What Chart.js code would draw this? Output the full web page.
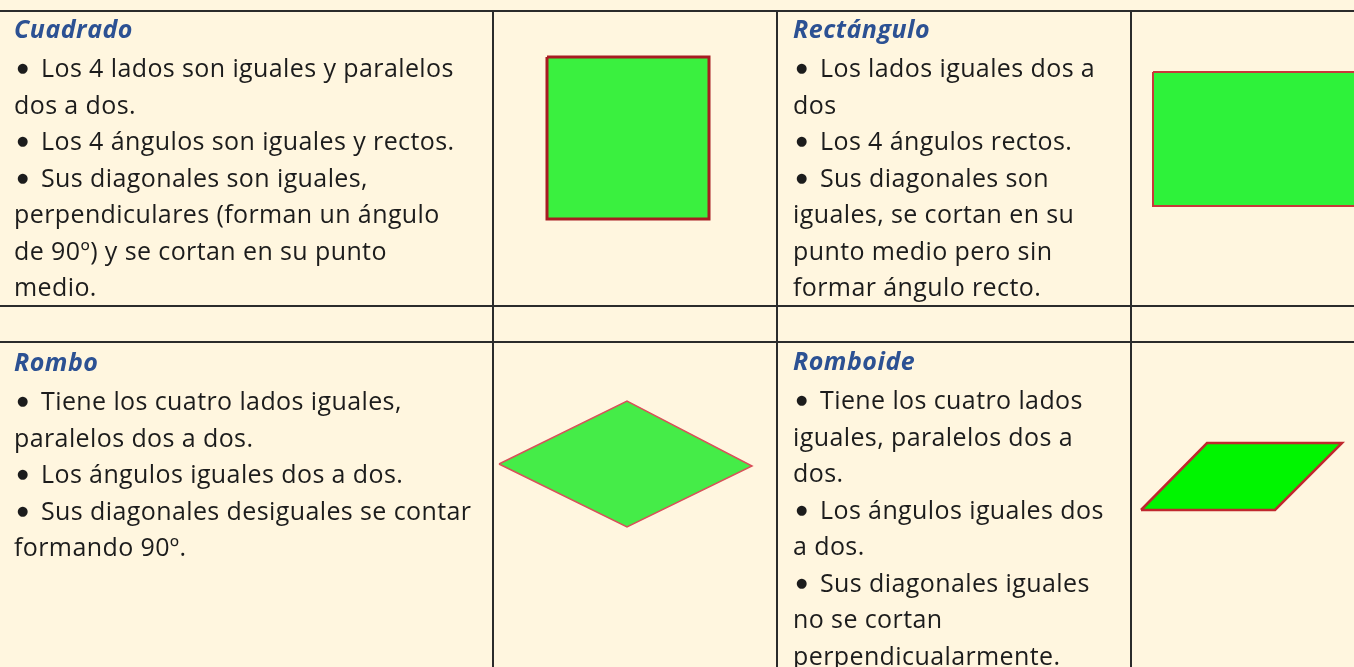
<!DOCTYPE html>
<html>
<head>
<meta charset="utf-8">
<script src="https://cdn.jsdelivr.net/npm/chart.js@4"></script>
<style>
  html, body { margin: 0; padding: 0; }
  body { width: 1354px; height: 667px; overflow: hidden; background: #fff6df; position: relative;
         font-family: "Open Sans", Lato, sans-serif; color: #1c1c1c; }
  #figuras { position: absolute; left: 0; top: 0; }
  .linea { position: absolute; background: #2b2b2b; }
  .celda { position: absolute; font-size: 25px; line-height: 36.5px; white-space: nowrap; letter-spacing: 0.4px; }
  .titulo { color: #2c5193; font-weight: bold; font-style: italic; font-size: 25px; line-height: 30px;
            letter-spacing: 0.5px; margin-bottom: 6px; }
  .b { display: inline-block; width: 24px; margin-left: 3px; font-family: "DejaVu Sans"; font-size: 13px;
       line-height: 12px; vertical-align: 5px; }
</style>
</head>
<body>
<canvas id="figuras" width="1354" height="667"></canvas>

<div class="linea" style="left:0;top:10px;width:1354px;height:2px"></div>
<div class="linea" style="left:0;top:305px;width:1354px;height:2px"></div>
<div class="linea" style="left:0;top:341px;width:1354px;height:2px"></div>
<div class="linea" style="left:492px;top:10px;width:2px;height:657px"></div>
<div class="linea" style="left:776px;top:10px;width:2px;height:657px"></div>
<div class="linea" style="left:1130px;top:10px;width:2px;height:657px"></div>

<div class="celda" style="left:14px;top:13px">
  <div class="titulo">Cuadrado</div>
  <span class="b">●</span>Los 4 lados son iguales y paralelos<br>dos a dos.<br><span class="b">●</span>Los 4 ángulos son iguales y rectos.<br><span class="b">●</span>Sus diagonales son iguales,<br>perpendiculares (forman un ángulo<br>de 90º) y se cortan en su punto<br>medio.
</div>
<div class="celda" style="left:793px;top:13px">
  <div class="titulo">Rectángulo</div>
  <span class="b">●</span>Los lados iguales dos a<br>dos<br><span class="b">●</span>Los 4 ángulos rectos.<br><span class="b">●</span>Sus diagonales son<br>iguales, se cortan en su<br>punto medio pero sin<br>formar ángulo recto.
</div>
<div class="celda" style="left:14px;top:346px">
  <div class="titulo">Rombo</div>
  <span class="b">●</span>Tiene los cuatro lados iguales,<br>paralelos dos a dos.<br><span class="b">●</span>Los ángulos iguales dos a dos.<br><span class="b">●</span>Sus diagonales desiguales se contar<br>formando 90º.
</div>
<div class="celda" style="left:793px;top:345px">
  <div class="titulo">Romboide</div>
  <span class="b">●</span>Tiene los cuatro lados<br>iguales, paralelos dos a<br>dos.<br><span class="b">●</span>Los ángulos iguales dos<br>a dos.<br><span class="b">●</span>Sus diagonales iguales<br>no se cortan<br>perpendicualarmente.
</div>

<script>
// vertices of each figure (page units, y grows downward)
const cuadrado   = [[547, 57], [709, 57], [709, 219], [547, 219], [547, 57]];
const rectangulo = [[1153, 72], [1370, 72], [1370, 206], [1153, 206], [1153, 72]];
const rombo      = [[499, 464], [627, 401], [752, 466], [627, 527], [499, 464]];
const romboide   = [[1141, 510], [1207, 443], [1342, 443], [1275, 510], [1141, 510]];

function toPoints(list) {
  return list.map(p => ({ x: p[0], y: p[1] }));
}

function figura(list, fillColor, borderColor, width) {
  return {
    data: toPoints(list),
    showLine: true,
    fill: 'shape',
    backgroundColor: fillColor,
    borderColor: borderColor,
    borderWidth: width,
    pointRadius: 0,
    tension: 0,
    borderJoinStyle: 'miter'
  };
}

document.addEventListener('DOMContentLoaded', function() {
  const ctx = document.getElementById('figuras').getContext('2d');
  new Chart(ctx, {
    type: 'scatter',
    data: {
      datasets: [
        figura(cuadrado, '#3af03f', '#a81c22', 3),
        figura(rectangulo, '#2ef23a', '#c8383a', 2),
        figura(rombo, '#45ec48', '#d9505a', 1.5),
        figura(romboide, '#00f500', '#c0282e', 2.5)
      ]
    },
    options: {
      responsive: false,
      animation: false,
      layout: { padding: 0 },
      plugins: { legend: { display: false }, tooltip: { enabled: false } },
      scales: {
        x: { type: 'linear', min: 0, max: 1354, display: false },
        y: { type: 'linear', min: 0, max: 667, reverse: true, display: false }
      }
    }
  });
});
</script>
</body>
</html>
